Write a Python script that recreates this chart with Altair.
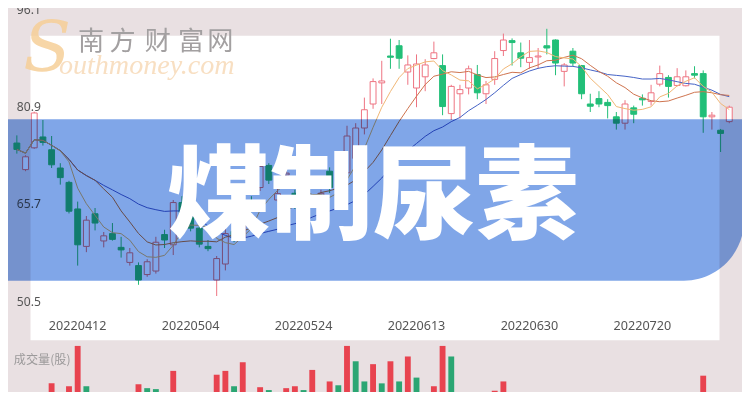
import altair as alt
import pandas as pd

W, H = 734, 384
SX, SY = W / 750, H / 400
SF = (SX + SY) / 2


def px(x):
    return x * SX


def py(y):
    return y * SY


# ---- candle data ----
opens = [75.3, 71.15, 74.55, 76.25, 74.25, 71.4, 69.15, 65.0, 59.15, 64.25,
         60.0, 61.15, 59.0, 56.65, 56.15, 54.75, 55.3, 61.0, 59.4, 66.0,
         64.5, 62.0, 59.15, 53.9, 56.4, 61.5, 60.5, 66.0, 68.35, 71.8,
         66.4, 70.3, 67.45, 65.5, 65.65, 66.1, 70.9, 70.0, 70.65, 72.9,
         77.65, 81.4, 84.7, 88.9, 90.5, 86.4, 83.9, 85.65, 88.5, 87.4,
         79.9, 83.0, 83.9, 86.0, 83.0, 85.25, 89.75, 91.3, 89.4, 87.9,
         88.75, 90.5, 91.4, 86.5, 89.65, 87.4, 81.4, 82.25, 81.65, 79.4,
         78.4, 80.8, 82.3, 81.8, 84.5, 85.55, 84.3, 84.25, 86.15, 86.15,
         79.4, 77.3, 78.65]
highs = [76.5, 73.4, 80.2, 78.9, 76.4, 72.15, 69.4, 66.15, 63.9, 65.15,
         61.4, 62.8, 60.65, 58.9, 56.65, 57.15, 60.65, 61.75, 66.4, 67.0,
         65.0, 62.5, 60.15, 57.65, 62.4, 62.5, 66.5, 67.0, 72.0, 72.15,
         68.4, 70.9, 68.0, 66.8, 67.0, 68.0, 71.5, 70.9, 78.0, 78.4,
         82.4, 85.4, 88.15, 91.6, 91.4, 89.0, 89.15, 88.4, 91.15, 89.15,
         84.4, 84.4, 87.4, 87.5, 85.0, 89.65, 92.4, 91.65, 91.0, 91.4,
         90.15, 93.15, 91.5, 87.8, 90.15, 87.5, 83.0, 83.4, 82.15, 80.15,
         82.0, 81.15, 82.9, 84.4, 87.4, 85.9, 87.0, 86.65, 87.3, 86.65,
         80.15, 77.5, 81.15]
lows = [73.65, 70.9, 74.4, 74.9, 71.4, 68.8, 64.3, 56.15, 58.25, 61.65,
        59.0, 60.05, 57.4, 56.15, 53.15, 54.4, 54.9, 58.9, 57.8, 63.8,
        61.5, 59.0, 58.4, 51.4, 55.4, 59.8, 60.0, 64.5, 67.8, 68.9,
        66.15, 69.5, 65.0, 65.0, 65.2, 65.6, 67.5, 68.5, 69.9, 71.9,
        76.65, 80.65, 81.4, 86.9, 86.9, 84.4, 80.9, 83.4, 88.4, 79.65,
        78.9, 79.15, 82.9, 82.15, 81.4, 84.4, 88.9, 87.4, 87.15, 86.9,
        86.9, 89.15, 85.9, 84.15, 87.3, 82.15, 80.15, 80.9, 79.15, 77.4,
        77.4, 78.4, 81.15, 81.15, 84.15, 82.4, 84.15, 84.15, 85.4, 76.9,
        77.4, 73.9, 78.4]
closes = [74.3, 73.15, 80.0, 75.4, 71.9, 69.9, 64.65, 59.4, 63.25, 62.8,
          60.8, 60.25, 58.6, 58.15, 53.9, 56.75, 59.8, 60.15, 66.0, 64.5,
          62.0, 59.5, 58.8, 57.25, 61.15, 60.5, 65.5, 65.3, 71.65, 69.5,
          67.4, 70.6, 65.65, 66.2, 66.4, 67.45, 68.35, 69.3, 76.4, 77.65,
          80.5, 84.9, 85.0, 88.7, 88.55, 87.5, 87.65, 87.5, 89.4, 81.0,
          84.15, 83.65, 86.9, 83.15, 84.4, 88.5, 91.4, 91.0, 88.55, 88.65,
          88.9, 90.15, 87.8, 87.5, 87.8, 83.0, 81.05, 81.4, 81.15, 78.4,
          81.4, 79.8, 82.05, 83.15, 86.15, 84.15, 85.65, 85.65, 85.9, 79.4,
          79.65, 76.8, 80.9]

# ---- volume (visible part) ----
vol_idx = [4, 6, 7, 8, 14, 15, 16, 18, 23, 24, 25, 26, 28, 29, 31, 32, 33, 34,
           36, 37, 38, 39, 40, 41, 42, 43, 44, 45, 46, 48, 49, 50, 55, 56, 79]
vol_val = [9, 6, 48, 6, 8, 4, 3, 22, 18, 22, 6, 31, 5, 2, 4, 6, 2, 23,
           11, 7, 48, 32, 11, 29, 9, 32, 11, 37, 15, 6, 48, 37, 1.3, 11, 17]
vol_dir = ["r", "r", "r", "g", "r", "g", "g", "r", "r", "r", "g", "r", "r", "g",
           "r", "r", "g", "r", "r", "g", "r", "g", "g", "r", "g", "r", "g", "r",
           "g", "r", "r", "g", "r", "r", "r"]

# ---- axis texts ----
date_pos = [7, 20, 33, 46, 59, 72]
date_labels = ["20220412", "20220504", "20220524", "20220613", "20220630", "20220720"]
price_ticks = [96.1, 80.9, 65.7, 50.5]

UP = "#ee7482"
DN = "#22bf78"
VOL_R = "#e8434f"
VOL_G = "#2ba673"
MA5C = "#f1b776"
MA10C = "#cf744f"
MA20C = "#4563c6"
BANNER = "#80a6e8"

df = pd.DataFrame({"i": list(range(len(opens))), "open": opens, "high": highs,
                   "low": lows, "close": closes})
df["dir"] = ["up" if c >= o else "down" for o, c in zip(opens, closes)]
vdf = pd.DataFrame({"i": vol_idx, "vol": vol_val, "dir": vol_dir})
ddf = pd.DataFrame({"i": date_pos, "label": date_labels})
tdf = pd.DataFrame({"p": price_ticks, "label": [str(v) for v in price_ticks]})
one = pd.DataFrame({"a": [0]})

xs = alt.Scale(domain=[-0.444, 82.889], nice=False, zero=False)
ys = alt.Scale(domain=[36.4, 96.4], nice=False, zero=False)
vs = alt.Scale(domain=[0, 400], nice=False, zero=True)

X = alt.X("i:Q", scale=xs, axis=None)

panel = alt.Chart(one).mark_rect(color="white").encode(
    x=alt.value(px(23)), x2=alt.value(px(727)), y=alt.value(py(29)), y2=alt.value(py(346)))

wm_s = alt.Chart(one).mark_text(text="S", font="DejaVu Serif", fontStyle="italic",
                                fontSize=72 * SF, color="#f6cf98", opacity=0.85,
                                align="center", baseline="middle").encode(
    x=alt.value(px(40)), y=alt.value(py(44)))
wm_en = alt.Chart(one).mark_text(text="outhmoney.com", font="Liberation Serif",
                                 fontStyle="italic", fontSize=29 * SF, color="#f8dfc2",
                                 align="left", baseline="middle").encode(
    x=alt.value(px(52)), y=alt.value(py(60)))
wm_cn_layers = []
for ch, cx in zip("南方财富网", [85, 117, 153, 187, 217]):
    wm_cn_layers.append(alt.Chart(one).mark_text(text=ch, font="Noto Sans CJK SC",
                                                 fontSize=27 * SF, color="#a3a0a1",
                                                 align="center", baseline="middle").encode(
        x=alt.value(px(cx)), y=alt.value(py(35))))

ylab = alt.Chart(tdf).mark_text(font="Noto Sans", fontSize=12.5 * SF, color="#555555",
                                align="left", baseline="middle").encode(
    x=alt.value(px(9)), y=alt.Y("p:Q", scale=ys, axis=None), text="label:N")

wicks = alt.Chart(df).mark_rule(strokeWidth=1).encode(
    x=X, y=alt.Y("low:Q", scale=ys, axis=None), y2="high:Q",
    color=alt.Color("dir:N", scale=alt.Scale(domain=["up", "down"], range=[UP, DN]), legend=None))

bodies_up = alt.Chart(df).transform_filter(alt.datum.dir == "up").mark_bar(
    fill="white", stroke=UP, strokeWidth=1, width=px(6)).encode(
    x=X, y=alt.Y("open:Q", scale=ys, axis=None), y2="close:Q")
bodies_dn = alt.Chart(df).transform_filter(alt.datum.dir == "down").mark_bar(
    fill=DN, stroke=DN, strokeWidth=1, width=px(6)).encode(
    x=X, y=alt.Y("open:Q", scale=ys, axis=None), y2="close:Q")


def ma_line(n, col):
    return alt.Chart(df).transform_window(
        ma="mean(close)", frame=[-(n - 1), 0], sort=[alt.SortField("i")]
    ).mark_line(strokeWidth=1, color=col).encode(
        x=X, y=alt.Y("ma:Q", scale=ys, axis=None))


vol = alt.Chart(vdf).mark_bar(width=px(6)).encode(
    x=X, y=alt.Y("vol:Q", scale=vs, axis=None), y2=alt.datum(0),
    color=alt.Color("dir:N", scale=alt.Scale(domain=["r", "g"], range=[VOL_R, VOL_G]), legend=None))

vol_title = alt.Chart(one).mark_text(text="成交量(股)", font="Noto Sans CJK SC",
                                     fontSize=12.5 * SF, color="#9c9a9b",
                                     align="left", baseline="middle").encode(
    x=alt.value(px(6)), y=alt.value(py(367)))

dates = alt.Chart(ddf).mark_text(font="Noto Sans", fontSize=13 * SF, color="#555555",
                                 align="center", baseline="middle").encode(
    x=X, y=alt.value(py(331)), text="label:N")

banner = alt.Chart(one).mark_rect(color=BANNER, blend="multiply",
                                  cornerRadiusBottomRight=62 * SF).encode(
    x=alt.value(px(-2)), x2=alt.value(px(752)), y=alt.value(py(116)), y2=alt.value(py(284)))

title = alt.Chart(one).mark_text(text="煤制尿素", font="Noto Sans CJK SC", fontWeight=900,
                                 fontSize=106 * SF, color="white",
                                 align="center", baseline="middle").encode(
    x=alt.value(px(373)), y=alt.value(py(200)))

chart = alt.layer(
    panel, wm_s, wm_en, *wm_cn_layers, ylab, wicks, bodies_up, bodies_dn,
    ma_line(20, MA20C), ma_line(10, MA10C), ma_line(5, MA5C),
    vol, vol_title, dates, banner, title
).resolve_scale(y="independent", color="independent").properties(
    width=W, height=H, padding=0, autosize=alt.AutoSizeParams(type="none"),
    background="#e9e0e2"
).configure_view(stroke=None)

chart.save("out.html", embed_options={"renderer": "svg", "actions": False})
